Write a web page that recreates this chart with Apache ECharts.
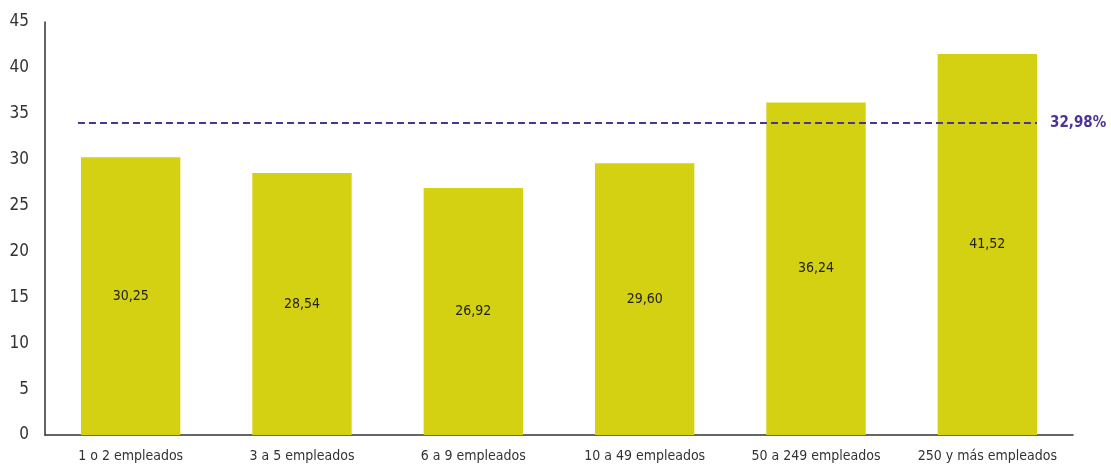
<!DOCTYPE html>
<html>
<head>
<meta charset="utf-8">
<script src="https://cdn.jsdelivr.net/npm/echarts@6/dist/echarts.min.js"></script>
<style>
  html, body { margin: 0; padding: 0; background: #fff; }
  #chart { width: 1111px; height: 466px; }
</style>
</head>
<body>
<div id="chart"></div>
<script>
// Datos
const categories = ['1 o 2 empleados', '3 a 5 empleados', '6 a 9 empleados', '10 a 49 empleados', '50 a 249 empleados', '250 y más empleados']
const values = [30.25, 28.54, 26.92, 29.60, 36.24, 41.52]
const refLineValue = [34.0]
const refLineLabel = '32,98%'

const FONT = '"Liberation Sans Narrow", "DejaVu Sans Condensed", "Roboto", sans-serif'
const BAR_RATIO = 0.58

const chart = echarts.init(document.getElementById('chart'))

// Línea discontinua de referencia, de borde a borde de las barras
const renderRefLine = (params, api) => {
  const v = api.value(0)
  const first = api.coord([0, v])
  const last = api.coord([categories.length - 1, v])
  const band = api.size([1, 0])[0]
  const half = band * BAR_RATIO / 2
  const x0 = first[0] - half - 3
  const x1 = last[0] + half
  return {
    type: 'group',
    children: [
      {
        type: 'line',
        shape: { x1: x0, y1: first[1], x2: x1, y2: first[1] },
        style: { stroke: '#4e3397', lineWidth: 2, lineDash: [7, 4] }
      },
      {
        type: 'text',
        x: x1 + 13,
        y: first[1],
        style: {
          text: refLineLabel,
          fill: '#4e3397',
          font: 'bold 15px ' + FONT,
          textVerticalAlign: 'middle'
        }
      }
    ]
  }
}

chart.setOption({
  animation: false,
  grid: { left: 45, right: 38, top: 22, bottom: 31 },
  xAxis: {
    type: 'category',
    data: categories,
    axisLine: { lineStyle: { color: '#333', width: 1.5 } },
    axisTick: { show: false },
    axisLabel: { color: '#333', fontSize: 14, fontFamily: FONT, margin: 14, interval: 0 }
  },
  yAxis: {
    type: 'value',
    min: 0,
    max: 45,
    interval: 5,
    axisLine: { show: true, lineStyle: { color: '#333', width: 1.5 } },
    axisTick: { show: false },
    splitLine: { show: false },
    axisLabel: { color: '#333', fontSize: 17, fontFamily: FONT, margin: 16 }
  },
  series: [
    {
      type: 'bar',
      data: values,
      barWidth: (BAR_RATIO * 100) + '%',
      itemStyle: { color: '#d4d112' },
      label: {
        show: true,
        position: 'inside',
        color: '#222',
        fontSize: 14,
        fontFamily: FONT,
        formatter: p => p.value.toFixed(2).replace('.', ',')
      }
    },
    {
      type: 'custom',
      renderItem: renderRefLine,
      data: refLineValue.map(v => [v]),
      encode: { y: 0 },
      z: 5
    }
  ]
})
</script>
</body>
</html>
